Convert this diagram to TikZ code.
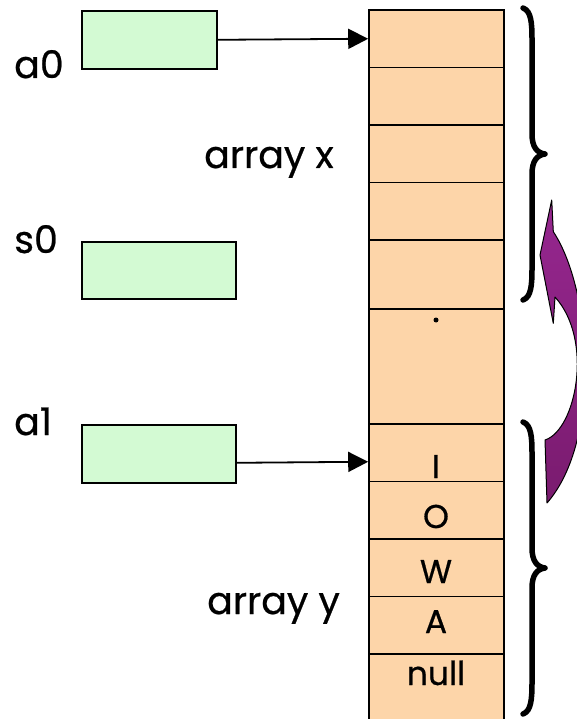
\documentclass[tikz,border=0pt]{standalone}
\usepackage{fontspec}
\setmainfont{Poppins}[FakeBold=0.6]
\usetikzlibrary{arrows.meta}
\definecolor{cellfill}{HTML}{FDD5A9}
\definecolor{regfill}{HTML}{D3FAD3}
\definecolor{purpletop}{HTML}{96278F}
\definecolor{purplebot}{HTML}{7A1B6F}
\tikzset{
  cell/.style={draw=black, line width=1.6pt, fill=cellfill, minimum width=135pt, inner sep=0pt, anchor=center},
  reg/.style={draw=black, line width=1.6pt, fill=regfill, inner sep=0pt, anchor=north west},
  lbl/.style={inner sep=0pt, anchor=base west, font=\fontsize{38}{44}\selectfont},
  celltxt/.style={inner sep=0pt, anchor=base, font=\fontsize{33}{40}\selectfont},
  ptr/.style={line width=1.8pt, -{Triangle[length=20pt,width=20pt]}},
  brace/.style={line width=5.5pt, line cap=round, line join=round}
}
\begin{document}
\begin{tikzpicture}[x=1pt, y=-1pt]
\useasboundingbox (0,0) rectangle (577,719);
\clip (0,0) rectangle (577,719);

% memory column
\node[cell, minimum height=57.5pt] (x1) at (436.5,38.75) {};
\node[cell, minimum height=57.5pt] (x2) at (436.5,96.25) {};
\node[cell, minimum height=57.5pt] (x3) at (436.5,153.75) {};
\node[cell, minimum height=57.5pt] (x4) at (436.5,211.25) {};
\node[cell, minimum height=69pt] (x5) at (436.5,274.5) {};
\node[cell, minimum height=115pt] (gap) at (436.5,366.5) {};
\node[cell, minimum height=57.5pt] (y1) at (436.5,452.75) {};
\node[cell, minimum height=57.5pt] (y2) at (436.5,510.25) {};
\node[cell, minimum height=57.5pt] (y3) at (436.5,567.75) {};
\node[cell, minimum height=57.5pt] (y4) at (436.5,625.25) {};
\node[cell, minimum height=80pt] (y5) at (436.5,694) {};
\fill (436,320) circle (2.5pt);

% cell contents
\node[celltxt] (tI) at (436,478) {I};
\node[celltxt] (tO) at (436,528) {O};
\node[celltxt] (tW) at (436,583) {W};
\node[celltxt] (tA) at (436,633) {A};
\node[celltxt] (tnull) at (436,685) {null};

% registers
\node[reg, minimum width=135pt, minimum height=58pt] (a0) at (81,10) {};
\node[reg, minimum width=154pt, minimum height=57pt] (s0) at (81,241) {};
\node[reg, minimum width=154pt, minimum height=58pt] (a1) at (81,424) {};

\node[lbl] (la0) at (14,78) {a0};
\node[lbl] (ls0) at (14,253) {s0};
\node[lbl] (la1) at (14,435) {a1};
\node[lbl] (lx) at (204,168) {array x};
\node[lbl] (ly) at (207,614) {array y};

% pointers
\draw[ptr] (a0.east) -- (x1.west);
\draw[ptr] ([yshift=-9pt]a1.east) -- ([yshift=-9pt]y1.west);

% braces
\draw[brace] (523,8) .. controls (531,11) and (532,22) .. (532,40) -- (532,134)
  .. controls (532,147) and (537,153) .. (545,154)
  .. controls (537,155) and (532,161) .. (532,174) -- (532,268)
  .. controls (532,286) and (531,297) .. (523,300);
\draw[brace] (523,422) .. controls (531,425) and (532,436) .. (532,454) -- (532,548)
  .. controls (532,561) and (537,567) .. (545,568)
  .. controls (537,569) and (532,575) .. (532,588) -- (532,682)
  .. controls (532,700) and (531,711) .. (523,714);

% curved block arrow
\shade[top color=purpletop, bottom color=purplebot, draw=black, line width=1pt, line join=round]
  (551.7,200) -- (553.3,231.7)
  .. controls (592,290) and (602,440) .. (547,503)
  -- (545,440)
  .. controls (576,430) and (594,340) .. (555,297)
  -- (553.3,323.3) -- (540,255) -- cycle;
\end{tikzpicture}
\end{document}
